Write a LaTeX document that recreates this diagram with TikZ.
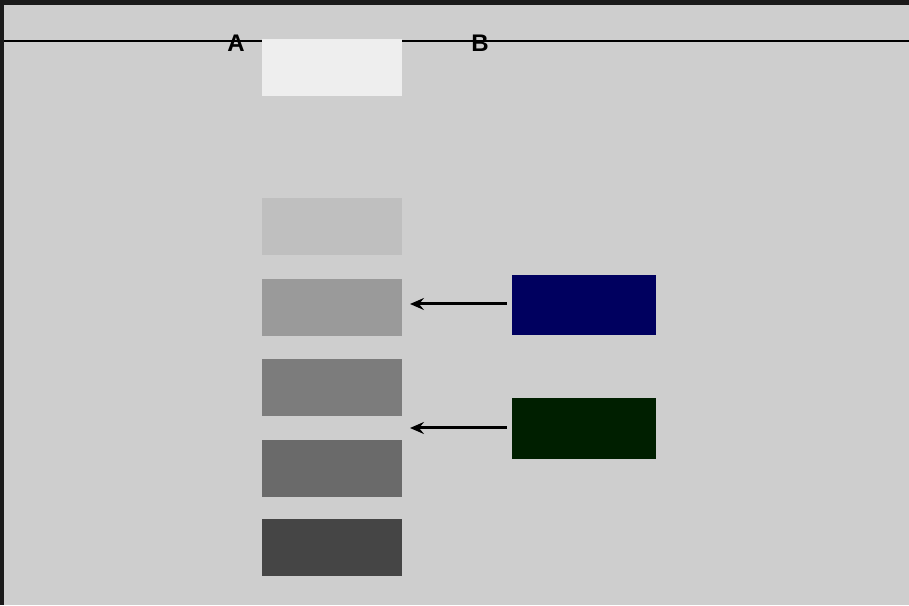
\documentclass[tikz,border=0pt]{standalone}
\usepackage{fontspec}
\setmainfont{Liberation Sans}
\usetikzlibrary{arrows.meta}
\definecolor{frame}{HTML}{1A1A1A}
\definecolor{panel}{HTML}{CECECE}
\definecolor{shadeA}{HTML}{EEEEEE}
\definecolor{shadeB}{HTML}{BFBFBF}
\definecolor{shadeC}{HTML}{9A9A9A}
\definecolor{shadeD}{HTML}{7C7C7C}
\definecolor{shadeE}{HTML}{6A6A6A}
\definecolor{shadeF}{HTML}{454545}
\definecolor{navy}{HTML}{00005F}
\definecolor{forest}{HTML}{001F00}
\tikzset{
  x=1pt, y=1pt,
  swatch/.style={draw=none, inner sep=0pt, minimum width=140pt, minimum height=57pt},
  sample/.style={draw=none, inner sep=0pt, minimum width=144pt, minimum height=60pt},
  tag/.style={font=\bfseries\fontsize{24}{24}\selectfont, inner sep=0pt},
  pointer/.style={line width=3pt, -{Stealth[length=14pt,width=12pt,inset=5pt]}}
}
\begin{document}
\begin{tikzpicture}
  % outer frame and panel
  \fill[frame] (0,0) rectangle (909,605);
  \fill[panel] (4,0) rectangle (909,600);
  \useasboundingbox (0,0) rectangle (909,605);
  % header rule
  \coordinate (ruleL) at (4,564);
  \coordinate (ruleR) at (909,564);
  \draw[line width=1.4pt] (ruleL) -- (ruleR);
  \node[tag] (labA) at (236,562) {A};
  \node[tag] (labB) at (480,562) {B};
  % grey scale column
  \node[swatch, fill=shadeA] (g1) at (332,537) {};
  \node[swatch, fill=shadeB] (g2) at (332,378) {};
  \node[swatch, fill=shadeC] (g3) at (332,297) {};
  \node[swatch, fill=shadeD] (g4) at (332,217.5) {};
  \node[swatch, fill=shadeE] (g5) at (332,137) {};
  \node[swatch, fill=shadeF] (g6) at (332,57.5) {};
  % coloured samples
  \node[sample, fill=navy] (blue) at (584,300) {};
  \node[sample, fill=forest] (green) at (584,176.5) {};
  \coordinate (tipB) at (410,301);
  \coordinate (tipG) at (410,177);
  \draw[pointer] (blue.west |- tipB) ++(-5,0) -- (tipB);
  \draw[pointer] (green.west |- tipG) ++(-5,0) -- (tipG);
\end{tikzpicture}
\end{document}
